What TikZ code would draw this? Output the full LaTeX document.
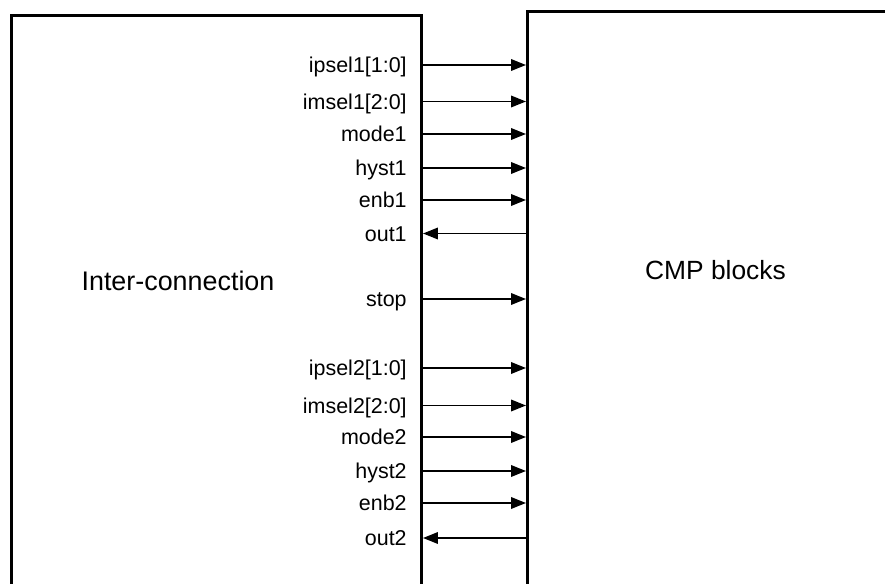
\documentclass[tikz,border=0pt]{standalone}
\usepackage{fontspec}
\setmainfont{Liberation Sans}
\usetikzlibrary{arrows.meta}

\begin{document}
\begin{tikzpicture}[>={Triangle[length=0.3cm,width=0.23cm]},
  blk/.style={draw,line width=1.7pt,inner sep=0pt},
  sig/.style={anchor=east,inner sep=0pt,text height=8.7pt,text depth=0pt,font=\fontsize{12.2}{14}\selectfont},
  wire/.style={line width=1.1pt}]
\useasboundingbox (0,0) rectangle (17.7,11.66);
\clip (0,0) rectangle (17.7,11.66);

% the two blocks, cut off at the bottom
\node[blk,anchor=north west,minimum width=8.2cm,minimum height=13cm] (ic) at (0.2,11.38) {};
\node[blk,anchor=north west,minimum width=9cm,minimum height=13cm] (cmp) at (10.52,11.46) {};

\node[font=\fontsize{15.3}{18}\selectfont] (ictxt) at (3.56,6.04) {Inter-connection};
\node[font=\fontsize{15}{18}\selectfont] (cmptxt) at (14.31,6.25) {CMP blocks};

% channel 1
\node[sig] (ipsel1) at (8.14,10.36) {ipsel1[1:0]};
\node[sig] (imsel1) at (8.14,9.63) {imsel1[2:0]};
\node[sig] (mode1) at (8.14,8.98) {mode1};
\node[sig] (hyst1) at (8.14,8.30) {hyst1};
\node[sig] (enb1) at (8.14,7.66) {enb1};
\node[sig] (out1) at (8.14,6.99) {out1};

\node[sig] (stop) at (8.14,5.68) {stop};

% channel 2
\node[sig] (ipsel2) at (8.14,4.30) {ipsel2[1:0]};
\node[sig] (imsel2) at (8.14,3.55) {imsel2[2:0]};
\node[sig] (mode2) at (8.14,2.92) {mode2};
\node[sig] (hyst2) at (8.14,2.24) {hyst2};
\node[sig] (enb2) at (8.14,1.60) {enb2};
\node[sig] (out2) at (8.14,0.90) {out2};

\draw[wire,->] (ic.east |- ipsel1) -- (cmp.west |- ipsel1);
\draw[wire,->] (ic.east |- imsel1) -- (cmp.west |- imsel1);
\draw[wire,->] (ic.east |- mode1) -- (cmp.west |- mode1);
\draw[wire,->] (ic.east |- hyst1) -- (cmp.west |- hyst1);
\draw[wire,->] (ic.east |- enb1) -- (cmp.west |- enb1);
\draw[wire,<-] (ic.east |- out1) -- (cmp.west |- out1);

\draw[wire,->] (ic.east |- stop) -- (cmp.west |- stop);

\draw[wire,->] (ic.east |- ipsel2) -- (cmp.west |- ipsel2);
\draw[wire,->] (ic.east |- imsel2) -- (cmp.west |- imsel2);
\draw[wire,->] (ic.east |- mode2) -- (cmp.west |- mode2);
\draw[wire,->] (ic.east |- hyst2) -- (cmp.west |- hyst2);
\draw[wire,->] (ic.east |- enb2) -- (cmp.west |- enb2);
\draw[wire,<-] (ic.east |- out2) -- (cmp.west |- out2);
\end{tikzpicture}
\end{document}
